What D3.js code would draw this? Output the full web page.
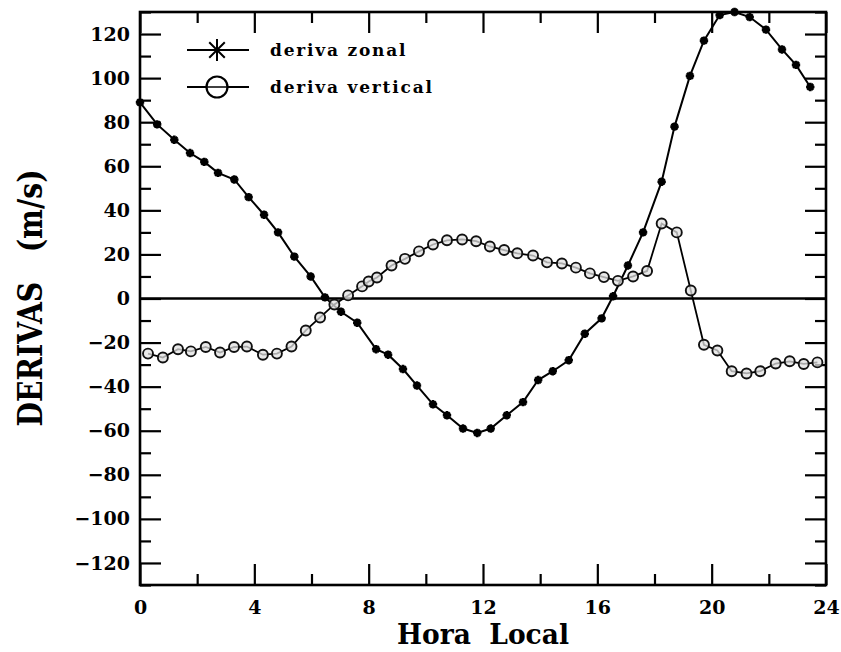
<!DOCTYPE html>
<html><head><meta charset="utf-8">
<script src="https://cdn.jsdelivr.net/npm/d3@7"></script>
<style>
html,body{margin:0;padding:0;background:#fff;}
svg{display:block;}
</style></head>
<body>
<svg id="c" width="841" height="652"></svg>
<script>
// Data
const zonalHour = [0,0.6,1.2,1.75,2.25,2.73,3.3,3.8,4.34,4.83,5.4,5.97,6.47,7.03,7.6,8.26,8.68,9.2,9.69,10.25,10.74,11.3,11.8,12.27,12.83,13.4,13.93,14.44,15.0,15.56,16.15,16.55,17.07,17.6,18.25,18.7,19.24,19.73,20.28,20.8,21.33,21.9,22.46,22.95,23.45];
const zonalVal  = [89,79,72,66,62,57,54,46,38,30,19,10,0.5,-6,-11,-23,-25.5,-32,-39.5,-48,-53,-59,-61,-59,-53,-47,-37,-33,-28,-16,-9,1,15,30,53,78,101,117,128.6,130,127.7,122,113,106,96];
const vertHour  = [0.28,0.8,1.33,1.78,2.3,2.8,3.29,3.74,4.3,4.79,5.3,5.8,6.3,6.8,7.28,7.77,8.0,8.29,8.8,9.27,9.76,10.25,10.74,11.27,11.76,12.24,12.74,13.2,13.75,14.24,14.76,15.25,15.74,16.23,16.72,17.25,17.74,18.25,18.78,19.27,19.73,20.2,20.7,21.22,21.7,22.24,22.73,23.22,23.7];
const vertVal   = [-25,-26.8,-23,-24,-22,-24.5,-22,-21.8,-25.5,-25,-21.8,-14.5,-8.6,-2.7,1.4,5.5,7.7,9.5,15,18,21.4,24.5,26.4,26.8,26,23.6,22,20.5,19.5,16.4,15.9,14,11.4,9.7,8,10,12.5,34,30,3.6,-21,-23.6,-33,-34,-33,-29.5,-28.5,-29.7,-29];
const xMajorTicks = [0,4,8,12,16,20,24];
const xMinorTicks = [2,6,10,14,18,22];
const yMajorTicks = [-120,-100,-80,-60,-40,-20,0,20,40,60,80,100,120];
const yMinorTicks = [-130,-110,-90,-70,-50,-30,-10,10,30,50,70,90,110,130];
const seriesNames = ["deriva zonal","deriva vertical"];
const xTitle = "Hora  Local";
const yTitle = "DERIVAS   (m/s)";

const svg = d3.select("#c");
const L=140, R=826, T=12, B=585;
const x = d3.scaleLinear().domain([0,24]).range([L,R]);
const y = d3.scaleLinear().domain([-130,130]).range([B,T]);
const font = "'DejaVu Serif', serif";

function styleAxis(g, showText){
  g.select(".domain").remove();
  g.selectAll(".tick line").attr("stroke","#000").attr("stroke-width",2.2);
  if(showText){
    g.selectAll(".tick text").attr("font-family",font).attr("font-weight","bold")
     .attr("font-size",19).attr("fill","#000");
  } else g.selectAll(".tick text").remove();
}
const MJ=21, MN=11;
// left
svg.append("g").attr("transform",`translate(${L},0)`)
  .call(d3.axisLeft(y).tickValues(yMajorTicks).tickSize(-MJ).tickPadding(10).tickFormat(d=>d3.format("d")(d).replace("-","\u2212")))
  .call(g=>styleAxis(g,true));
svg.append("g").attr("transform",`translate(${L},0)`)
  .call(d3.axisLeft(y).tickValues(yMinorTicks).tickSize(-MN)).call(g=>styleAxis(g,false));
// right
svg.append("g").attr("transform",`translate(${R},0)`)
  .call(d3.axisRight(y).tickValues(yMajorTicks).tickSize(-MJ)).call(g=>styleAxis(g,false));
svg.append("g").attr("transform",`translate(${R},0)`)
  .call(d3.axisRight(y).tickValues(yMinorTicks).tickSize(-MN)).call(g=>styleAxis(g,false));
// bottom
const bottomAxis = svg.append("g").attr("transform",`translate(0,${B})`)
  .call(d3.axisBottom(x).tickValues(xMajorTicks).tickSize(-MJ))
  .call(g=>styleAxis(g,true));
bottomAxis.selectAll(".tick text").attr("dy","0").attr("y",29);
svg.append("g").attr("transform",`translate(0,${B})`)
  .call(d3.axisBottom(x).tickValues(xMinorTicks).tickSize(-MN)).call(g=>styleAxis(g,false));
// top
svg.append("g").attr("transform",`translate(0,${T})`)
  .call(d3.axisTop(x).tickValues(xMajorTicks).tickSize(-MJ)).call(g=>styleAxis(g,false));
svg.append("g").attr("transform",`translate(0,${T})`)
  .call(d3.axisTop(x).tickValues(xMinorTicks).tickSize(-MN)).call(g=>styleAxis(g,false));

// frame
svg.append("rect").attr("x",L).attr("y",T).attr("width",R-L).attr("height",B-T)
  .attr("fill","none").attr("stroke","#000").attr("stroke-width",2.6);
// zero line
svg.append("line").attr("x1",L).attr("x2",R).attr("y1",y(0)).attr("y2",y(0))
  .attr("stroke","#000").attr("stroke-width",2.6);

const line = d3.line().x(d=>x(d[0])).y(d=>y(d[1]));
const zonal = zonalHour.map((h,i)=>[h,zonalVal[i]]);
const vert = vertHour.map((h,i)=>[h,vertVal[i]]);

function starPath(r){
  let p="";
  [90,45,135].forEach(a=>{const rad=a*Math.PI/180;const dx=r*Math.cos(rad),dy=r*Math.sin(rad);
    p+=`M${-dx},${-dy}L${dx},${dy}`;});
  return p;
}

svg.append("path").datum(zonal).attr("d",line).attr("fill","none").attr("stroke","#000").attr("stroke-width",2);
svg.append("g").selectAll("path").data(zonal).join("path")
  .attr("transform",d=>`translate(${x(d[0])},${y(d[1])})`)
  .attr("d",starPath(4.2)+"M-4.2,0L4.2,0").attr("stroke","#000").attr("stroke-width",2.6).attr("fill","none");

svg.append("path").datum(vert).attr("d",line).attr("fill","none").attr("stroke","#000").attr("stroke-width",1.8);
svg.append("g").selectAll("circle").data(vert).join("circle")
  .attr("cx",d=>x(d[0])).attr("cy",d=>y(d[1])).attr("r",5)
  .attr("fill","#e2e2e2").attr("fill-opacity",0.75).attr("stroke","#111").attr("stroke-width",1.9);

// legend
const leg = svg.append("g");
[50,87].forEach((ly,i)=>{
  leg.append("line").attr("x1",187).attr("x2",249).attr("y1",ly).attr("y2",ly).attr("stroke","#000").attr("stroke-width",2);
  leg.append("text").attr("x",270).attr("y",ly+6).attr("font-family",font).attr("font-weight","bold")
    .attr("font-size",17).attr("letter-spacing",1.8).attr("fill","#000").text(seriesNames[i]);
});
leg.append("path").attr("transform","translate(217,50)").attr("d",starPath(11)).attr("stroke","#000").attr("stroke-width",2).attr("fill","none");
leg.append("circle").attr("cx",217).attr("cy",87).attr("r",10.5).attr("fill","#fff").attr("stroke","#000").attr("stroke-width",2.2);
leg.append("line").attr("x1",206.5).attr("x2",227.5).attr("y1",87).attr("y2",87).attr("stroke","#000").attr("stroke-width",1.5);

// titles
svg.append("text").attr("x",(L+R)/2).attr("y",644).attr("text-anchor","middle")
  .attr("font-family",font).attr("font-weight","bold").attr("font-size",28)
  .attr("textLength",172).attr("lengthAdjust","spacingAndGlyphs").style("white-space","pre").text(xTitle);
svg.append("text").attr("transform","translate(42,298) rotate(-90)").attr("text-anchor","middle")
  .attr("font-family",font).attr("font-weight","bold").attr("font-size",34)
  .attr("textLength",257).attr("lengthAdjust","spacingAndGlyphs").style("white-space","pre").text(yTitle);
</script>
</body></html>
